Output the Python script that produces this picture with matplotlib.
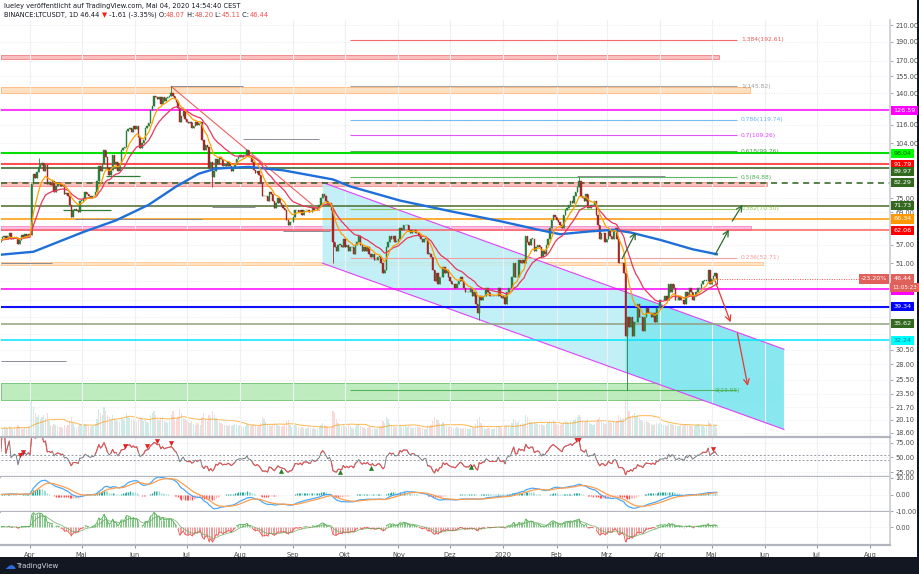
import numpy as np
import pandas as pd
import matplotlib
matplotlib.use("Agg")
import matplotlib.pyplot as plt
import matplotlib.dates as mdates
from matplotlib.patches import Rectangle, Polygon
from matplotlib.transforms import blended_transform_factory as blend
from matplotlib.ticker import FixedLocator, NullLocator

# ---------------- data (daily LTCUSDT) ----------------
first_open = 58.0
c_2019_03 = [58.5, 59.5, 60.0, 59.0, 59.8, 61.0, 58.9, 59.3, 59.6, 59.4, 57.2, 58.5, 60.4, 59.6, 60.7, 60.1, 60.8]
c_2019_04 = [60.3, 81.6, 86.8, 84.8, 87.6, 90.3, 91.6, 92.3, 88.4, 91.2, 81.5, 82.4, 81.2, 83.0, 78.0, 80.5, 82.0, 81.7, 80.5, 81.0,
             77.0, 77.6, 76.0, 72.0, 67.0, 70.0, 70.2, 69.8, 69.0, 74.0]
c_2019_05 = [74, 75, 78, 77, 76, 75, 76, 76, 78, 83, 91, 88, 92, 100, 96, 90, 86, 89, 97, 92, 93, 88, 92, 100, 101, 102, 112, 113,
             114, 111, 115]
c_2019_06 = [113, 115, 108, 101, 104, 106, 114, 115, 117, 127, 130, 138, 137, 135, 137, 131, 137, 134, 136, 137, 138, 140, 138, 135,
             133, 128, 118, 122, 126, 120]
c_2019_07 = [118, 117, 118, 114, 115, 118, 116, 117, 118, 106, 100, 103, 102, 90, 93, 85, 88, 95, 92, 96, 95, 91, 92, 91, 93, 91, 88,
             90, 92, 95, 96]
c_2019_08 = [97, 96, 97, 97, 100, 96, 96, 93, 89, 87, 88, 86, 82, 76, 76, 76, 74, 78, 77, 74, 71, 73, 75, 73, 72, 71, 70, 66, 64, 65, 65]
c_2019_09 = [67, 70, 70, 69, 70, 68, 70, 70, 70, 69, 69, 71, 70, 70, 71, 72, 75, 77, 76, 74, 72, 73, 70, 58, 56, 55, 57, 57, 56, 59]
c_2019_10 = [56, 57, 55, 56, 56, 54, 57, 58, 60, 57, 55, 56, 55, 56, 54, 53, 54, 52, 52, 53, 53, 51, 48, 49, 56, 58, 60, 59, 60, 58, 58]
c_2019_11 = [59, 63, 62, 64, 64, 64, 62, 61, 62, 62, 61, 61, 60, 59, 58, 59, 59, 54, 54, 53, 49, 46, 48, 45, 47, 47, 50, 48, 49, 47]
c_2019_12 = [46, 45, 45, 44, 45, 46, 47, 46, 44, 43, 43, 43, 44, 42, 43, 40, 38, 42, 41, 42, 42, 44, 43, 42, 42, 42, 42, 42, 44, 42, 41.5]
c_2020_01 = [42, 40, 43, 44, 44, 47, 51, 47, 47, 52, 51, 52, 51, 60, 58, 57, 59, 59, 55, 56, 57, 56, 53, 55, 54, 57, 59, 63, 66, 68, 67]
c_2020_02 = [66, 65, 64, 63, 68, 70, 71, 72, 74, 73, 76, 78, 80, 83, 76, 75, 74, 77, 71, 71, 72, 72, 74, 68, 64, 59, 61, 61, 58]
c_2020_03 = [59, 62, 60, 59, 62, 63, 59, 51, 51, 51, 48, 33, 37, 35, 37, 33, 36, 36, 40, 37, 37, 34, 37, 39, 38, 38, 37, 38, 36, 39, 39]
c_2020_04 = [41, 41, 41, 42, 41, 45, 43, 45, 44, 41, 41, 42, 41, 41, 40, 43, 42, 44, 43, 41, 42, 43, 44, 44, 45, 46, 46, 46, 49, 45]
c_2020_05 = [46.5, 47.2, 48.07, 46.44]

wick_dates = ['2019-04-06', '2019-06-22', '2019-07-16', '2019-09-24', '2019-12-18', '2020-02-14', '2020-03-13', '2020-05-04']
wick_highs = [95.5, 146.0, np.nan, np.nan, np.nan, 85.0, np.nan, 48.20]
wick_lows = [np.nan, np.nan, 80.0, 51.0, 36.5, np.nan, 23.95, 45.11]

v_2019_03 = [9, 8, 10, 9, 8, 11, 9, 8, 10, 9, 12, 10, 9, 8, 10, 9, 11]
v_2019_04 = [12, 38, 30, 24, 20, 22, 18, 20, 22, 19, 24, 16, 12, 11, 13, 12, 11, 10, 10, 9, 12, 10, 12, 16, 20, 14, 10, 9, 11, 13]
v_2019_05 = [12, 11, 13, 12, 11, 10, 11, 12, 13, 18, 28, 24, 22, 30, 26, 22, 20, 18, 22, 19, 17, 16, 15, 20, 18, 17, 24, 20, 19, 17, 18]
v_2019_06 = [16, 15, 17, 20, 18, 16, 17, 15, 14, 22, 24, 26, 22, 18, 17, 19, 20, 16, 15, 14, 16, 22, 26, 20, 18, 20, 28, 24, 19, 18]
v_2019_07 = [17, 15, 14, 16, 13, 12, 14, 13, 12, 20, 24, 18, 16, 22, 20, 26, 22, 19, 16, 15, 14, 13, 12, 12, 11, 12, 11, 12, 13, 12, 11]
v_2019_08 = [12, 11, 10, 11, 13, 12, 11, 12, 13, 12, 10, 11, 14, 20, 18, 15, 13, 12, 11, 12, 14, 13, 12, 11, 10, 11, 12, 16, 17, 12, 10]
v_2019_09 = [10, 12, 11, 10, 9, 10, 9, 8, 9, 10, 9, 8, 9, 8, 9, 10, 12, 14, 12, 11, 10, 9, 10, 26, 24, 18, 14, 12, 11, 12]
v_2019_10 = [11, 10, 12, 11, 9, 8, 10, 12, 13, 11, 10, 9, 8, 9, 10, 9, 8, 9, 8, 9, 10, 11, 16, 14, 20, 18, 14, 12, 11, 10, 10]
v_2019_11 = [11, 12, 10, 11, 12, 10, 11, 10, 9, 9, 10, 11, 10, 9, 9, 8, 8, 12, 11, 12, 16, 20, 18, 17, 14, 13, 15, 12, 11, 10]
v_2019_12 = [11, 10, 9, 9, 10, 9, 9, 8, 9, 9, 8, 8, 9, 10, 9, 13, 18, 20, 14, 11, 9, 8, 9, 9, 8, 8, 9, 10, 11, 10, 9]
v_2020_01 = [10, 11, 12, 11, 10, 14, 18, 16, 14, 16, 13, 14, 13, 22, 20, 16, 15, 14, 15, 14, 13, 12, 13, 12, 11, 13, 14, 16, 15, 17, 14]
v_2020_02 = [13, 12, 12, 13, 15, 16, 15, 14, 16, 15, 17, 18, 20, 22, 20, 16, 15, 16, 18, 14, 13, 12, 13, 15, 18, 20, 16, 14, 13]
v_2020_03 = [14, 16, 15, 14, 15, 14, 16, 22, 20, 18, 19, 40, 48, 26, 20, 22, 24, 20, 22, 19, 17, 16, 15, 16, 15, 14, 13, 12, 13, 14, 13]
v_2020_04 = [14, 13, 12, 12, 11, 14, 13, 13, 12, 12, 11, 11, 12, 11, 12, 13, 12, 12, 11, 11, 11, 12, 13, 12, 11, 11, 10, 11, 16, 14]
v_2020_05 = [12, 11, 12, 9]

ema200_dates = ['2019-03-14', '2019-04-03', '2019-05-02', '2019-05-21', '2019-06-09', '2019-06-25', '2019-07-08', '2019-07-18',
                '2019-08-06', '2019-08-26', '2019-09-24', '2019-10-04', '2019-11-02', '2019-12-01', '2019-12-30', '2020-01-23',
                '2020-02-03', '2020-02-20', '2020-03-05', '2020-03-15', '2020-04-01', '2020-04-20', '2020-05-04']
ema200_vals = [53.6, 54.6, 61.4, 65.8, 72.2, 80.5, 86.8, 89.5, 90.4, 88.6, 83.9, 80.5, 74.0, 69.5, 65.5, 62.0, 60.6, 61.6, 62.2,
               61.2, 58.6, 55.4, 53.8]

# horizontal levels (full width) with right-axis labels
hl_prices = [126.59, 98.04, 91.79, 89.97, 82.29, 71.73, 66.34, 62.06, 43.66, 39.34, 35.62, 32.24]
hl_colors = ['#ff00ff', '#00e000', '#ff1a1a', '#2e5e1e', '#2e5e1e', '#4a6b2a', '#ff9800', '#ff6060', '#ff00ff', '#1010ff',
             '#8fa07d', '#00e5ff']
hl_label_bg = ['#ff00ff', '#00ff00', '#ff0000', '#33691e', '#33691e', '#33691e', '#ff9800', '#ff0000', '#ff00ff', '#0000ff',
               '#33691e', '#00ffff']
hl_label_fg = ['white', '#1b5e20', 'white', 'white', 'white', 'white', 'white', 'white', 'white', 'white', 'white', '#00838f']

# fibonacci retracement
fib_ratios = ['1.384', '1', '0.786', '0.7', '0.618', '0.5', '0.382', '0.236', '0']
fib_prices = [192.61, 145.82, 119.74, 109.26, 99.26, 84.88, 70.50, 52.71, 23.95]
fib_colors = ['#f05a5a', '#9e9e9e', '#64b5f6', '#e040fb', '#43a047', '#4caf50', '#8bc34a', '#ef9a9a', '#4caf50']
fib_start, fib_end = '2019-10-04', '2020-05-16'

# price zones
band_lo = [171.5, 140.4, 80.6, 62.3, 50.4, 22.6]
band_hi = [175.7, 145.4, 82.7, 63.6, 51.5, 25.0]
band_end = ['2020-05-05', '2020-05-23', '2020-06-02', '2020-05-24', '2020-05-31', '2020-06-10']
band_face = ['#f7a8a8', '#ffd6ad', '#f7adad', '#f9a8d8', '#ffdcb3', '#a8e6a8']
band_edge = ['#f06f6f', '#ffab66', '#f27b7b', '#f57ac0', '#ffbe80', '#5cb85c']

# descending channel
channel_dates = ['2019-09-18', '2020-06-12']
channel_top = [82.4, 30.6]
channel_bot = [51.0, 19.0]
bright_start = '2020-03-12'

trend_dates = ['2019-06-22', '2019-09-16']
trend_prices = [145.8, 69.8]

gray_start = ['2019-06-22', '2019-08-03', '2019-07-16', '2019-04-27', '2019-03-15', '2020-02-13', '2019-03-15', '2019-08-26']
gray_end = ['2019-08-03', '2019-09-16', '2019-08-10', '2019-07-10', '2019-04-14', '2020-04-04', '2019-04-22', '2019-09-22']
gray_price = [145.8, 107.0, 71.3, 66.4, 51.2, 85.6, 28.6, 61.8]

green_start = ['2019-05-15', '2019-04-20']
green_end = ['2019-06-04', '2019-05-18']
green_price = [85.6, 70.0]

arrow_g_from = [('2020-03-10', 52.4), ('2020-05-03', 53.6), ('2020-05-13', 65.5)]
arrow_g_to = [('2020-03-18', 61.3), ('2020-05-11', 62.3), ('2020-05-19', 72.2)]
arrow_r_from = [('2020-05-03', 45.9), ('2020-05-16', 33.6)]
arrow_r_to = [('2020-05-12', 35.9), ('2020-05-22', 24.6)]

rsi_sell_dates = ['2019-03-26', '2019-03-28', '2019-05-26', '2019-06-08', '2019-06-14', '2019-06-22', '2020-02-12', '2020-02-14',
                  '2020-05-02']
rsi_buy_dates = ['2019-08-25', '2019-09-28', '2019-10-16', '2019-12-13']

price_ticks = [210, 190, 170, 155, 140, 116, 104, 75, 69, 57, 51, 30.5, 28, 25.5, 23.5, 21.7, 20.1, 18.6]
grid_only = [128, 93, 84, 63, 46, 41, 37, 33.5]
month_labels = ['Apr', 'Mai', 'Jun', 'Jul', 'Aug', 'Sep', 'Okt', 'Nov', 'Dez', '2020', 'Feb', 'Mrz', 'Apr', 'Mai', 'Jun', 'Jul', 'Aug']

# ---------------- derived series ----------------
closes = np.array(c_2019_03 + c_2019_04 + c_2019_05 + c_2019_06 + c_2019_07 + c_2019_08 + c_2019_09 + c_2019_10 +
                  c_2019_11 + c_2019_12 + c_2020_01 + c_2020_02 + c_2020_03 + c_2020_04 + c_2020_05, float)
vols = np.array(v_2019_03 + v_2019_04 + v_2019_05 + v_2019_06 + v_2019_07 + v_2019_08 + v_2019_09 + v_2019_10 +
                v_2019_11 + v_2019_12 + v_2020_01 + v_2020_02 + v_2020_03 + v_2020_04 + v_2020_05, float)
n = len(closes)
vols = vols[:n]
dates = pd.date_range('2019-03-15', periods=n, freq='D')
xd = mdates.date2num(dates)
opens = np.concatenate([[first_open], closes[:-1]])
highs = np.maximum(opens, closes)
lows = np.minimum(opens, closes)
for d, h, l in zip(wick_dates, wick_highs, wick_lows):
    i = dates.get_loc(pd.Timestamp(d))
    if not np.isnan(h):
        highs[i] = max(highs[i], h)
    if not np.isnan(l):
        lows[i] = min(lows[i], l)

cs = pd.Series(closes)
ema_fast = cs.ewm(span=9, adjust=False).mean().values
ema_slow = cs.ewm(span=21, adjust=False).mean().values
diff = cs.diff().fillna(0)
gain = diff.clip(lower=0).ewm(alpha=1 / 14, adjust=True).mean()
loss = (-diff.clip(upper=0)).ewm(alpha=1 / 14, adjust=True).mean()
rsi = (100 * gain / (gain + loss)).fillna(50).values
rsi[0] = 60
macd = (cs.ewm(span=12, adjust=False).mean() - cs.ewm(span=26, adjust=False).mean()).values
signal = pd.Series(macd).ewm(span=9, adjust=False).mean().values
hist = macd - signal
mom = (cs - cs.rolling(20, min_periods=1).mean()).values
vol_ma = pd.Series(vols).rolling(20, min_periods=1).mean().values


def psar(high, low, af0=0.02, afmax=0.2):
    m = len(high)
    sar = np.zeros(m)
    upt = np.zeros(m, bool)
    trend = True
    af = af0
    ep = high[0]
    sar[0] = low[0]
    upt[0] = True
    for i in range(1, m):
        s = sar[i - 1] + af * (ep - sar[i - 1])
        if trend:
            s = min(s, low[i - 1], low[max(i - 2, 0)])
            if low[i] < s:
                trend = False
                s = ep
                ep = low[i]
                af = af0
            elif high[i] > ep:
                ep = high[i]
                af = min(af + af0, afmax)
        else:
            s = max(s, high[i - 1], high[max(i - 2, 0)])
            if high[i] > s:
                trend = True
                s = ep
                ep = high[i]
                af = af0
            elif low[i] < ep:
                ep = low[i]
                af = min(af + af0, afmax)
        sar[i] = s
        upt[i] = trend
    return sar, upt


sar, sar_up = psar(highs, lows)

# ---------------- figure ----------------
W, H = 920, 574
fig = plt.figure(figsize=(9.2, 5.74), dpi=100)
fig.patch.set_facecolor('white')


def rect(l, t, r, b):
    return [l / W, 1 - b / H, (r - l) / W, (b - t) / H]


PXD = 1.7213
apr1 = mdates.date2num(pd.Timestamp('2019-04-01'))
xleft = apr1 - 29 / PXD
xright = xleft + 889 / PXD
D = lambda s: mdates.date2num(pd.Timestamp(s))
month_ticks = [mdates.date2num(t) for t in pd.date_range('2019-04-01', '2020-08-01', freq='MS')]

axv = fig.add_axes(rect(1, 20, 890, 437), zorder=0)
ax = fig.add_axes(rect(1, 20, 890, 437), zorder=1)
ax.patch.set_visible(False)
axr = fig.add_axes(rect(1, 437, 890, 477))
axm = fig.add_axes(rect(1, 477, 890, 512))
axo = fig.add_axes(rect(1, 512, 890, 545))

for a in (ax, axr, axm, axo):
    a.set_xlim(xleft, xright)
    a.set_xticks(month_ticks)
    a.grid(axis='x', color='#eef0f5', lw=0.8)
    for s in ('left', 'top'):
        a.spines[s].set_visible(False)
    a.spines['right'].set_color('#c9ccd4')
    a.spines['right'].set_linewidth(1.2)
    a.spines['bottom'].set_color('#b2b5be')
    a.spines['bottom'].set_linewidth(1.6)
    a.yaxis.tick_right()
    a.tick_params(axis='y', labelsize=4.8, labelcolor='#4a4a4a', length=2, color='#9598a1', pad=2, width=0.6)
    a.tick_params(axis='x', length=0, labelbottom=False)
axo.tick_params(axis='x', length=2, color='#9598a1', labelbottom=True, labelsize=4.8, labelcolor='#4a4a4a', pad=3)
axo.set_xticklabels(month_labels)

# volume pane (behind the price pane)
axv.set_xlim(xleft, xright)
axv.set_ylim(0, 417)
axv.axis('off')
upmask = closes >= opens
axv.bar(xd, vols, width=0.75, color=np.where(upmask, '#26a69a', '#ef5350'), alpha=0.22, lw=0)
axv.plot(xd, vol_ma, color='#ff9800', lw=0.7, alpha=0.7)

# main price pane
ax.set_yscale('log')
ax.set_ylim(18.16, 216.4)
ax.yaxis.set_major_locator(FixedLocator(price_ticks))
ax.yaxis.set_minor_locator(NullLocator())
ax.set_yticklabels(['%.2f' % t for t in price_ticks])
for p in price_ticks + grid_only:
    ax.axhline(p, color='#e3e5ea', lw=0.6, ls=(0, (1, 2)), zorder=0)

# bands
for lo, hi, e, fc, ec in zip(band_lo, band_hi, band_end, band_face, band_edge):
    ax.add_patch(Rectangle((xleft, lo), D(e) - xleft, hi - lo, facecolor=fc, edgecolor=ec, lw=0.7, alpha=0.75, zorder=1))

# channel
c0, c1 = D(channel_dates[0]), D(channel_dates[1])
ax.add_patch(Polygon([(c0, channel_top[0]), (c1, channel_top[1]), (c1, channel_bot[1]), (c0, channel_bot[0])],
                     closed=True, facecolor='#b9eef5', edgecolor='none', alpha=0.85, zorder=1))
frac = (D(bright_start) - c0) / (c1 - c0)
bt = np.exp(np.log(channel_top[0]) + frac * (np.log(channel_top[1]) - np.log(channel_top[0])))
bb = np.exp(np.log(channel_bot[0]) + frac * (np.log(channel_bot[1]) - np.log(channel_bot[0])))
ax.add_patch(Polygon([(D(bright_start), bt), (c1, channel_top[1]), (c1, channel_bot[1]), (D(bright_start), bb)],
                     closed=True, facecolor='#7fe6f0', edgecolor='none', alpha=0.85, zorder=1))
ax.plot([c0, c1], channel_top, color='#e040fb', lw=0.8, zorder=2)
ax.plot([c0, c1], channel_bot, color='#e040fb', lw=0.8, zorder=2)

# horizontal levels
for p, c in zip(hl_prices, hl_colors):
    ls = (0, (4, 3)) if p == 82.29 else '-'
    lw = 1.5 if p in (98.04, 39.34) else 1.1
    ax.axhline(p, color=c, lw=lw, ls=ls, zorder=2)

# fib lines
for r, p, c in zip(fib_ratios, fib_prices, fib_colors):
    ax.hlines(p, D(fib_start), D(fib_end), color=c, lw=0.8, zorder=2, alpha=0.9)
    lx = D('2020-05-03') if r == '0' else D('2020-05-18')
    ax.text(lx, p, '%s(%.2f)' % (r, p), fontsize=4.3, color=c, va='center', ha='left', zorder=6)

# gray / green segments
for s, e, p in zip(gray_start, gray_end, gray_price):
    ax.hlines(p, D(s), D(e), color='#8a8d96', lw=0.7, zorder=3)
for s, e, p in zip(green_start, green_end, green_price):
    ax.hlines(p, D(s), D(e), color='#2e7d32', lw=0.9, zorder=3)
ax.plot([D(trend_dates[0]), D(trend_dates[1])], trend_prices, color='#f06060', lw=0.8, zorder=3)

# candles
col = np.where(upmask, '#2a7d3a', '#a02828')
ax.vlines(xd, lows, highs, colors=col, lw=0.6, zorder=4)
ax.bar(xd, np.maximum(np.abs(closes - opens), 0.002 * closes), bottom=np.minimum(opens, closes), width=0.8,
       color=col, edgecolor=col, lw=0.3, zorder=4)

# moving averages
ax.plot([D(d) for d in ema200_dates], ema200_vals, color='#1e6fd9', lw=1.7, zorder=5)
ax.plot(xd, ema_slow, color='#e8375f', lw=0.9, zorder=5)
ax.plot(xd, ema_fast, color='#ffa000', lw=0.9, zorder=5)

# parabolic SAR
ax.scatter(xd[sar_up], sar[sar_up], s=0.45, marker='s', color='#4caf50', zorder=5, lw=0)
ax.scatter(xd[~sar_up], sar[~sar_up], s=0.45, marker='s', color='#ff4d4d', zorder=5, lw=0)

# arrows
for (d0, p0), (d1, p1) in zip(arrow_g_from, arrow_g_to):
    ax.annotate('', xy=(D(d1), p1), xytext=(D(d0), p0),
                arrowprops=dict(arrowstyle='->', color='#2e6b2e', lw=0.9, shrinkA=0, shrinkB=0), zorder=6)
for (d0, p0), (d1, p1) in zip(arrow_r_from, arrow_r_to):
    ax.annotate('', xy=(D(d1), p1), xytext=(D(d0), p0),
                arrowprops=dict(arrowstyle='->', color='#e53935', lw=0.9, shrinkA=0, shrinkB=0), zorder=6)

# current price line
last = closes[-1]
ax.hlines(last, xd[-1], xright, color='#ef5350', lw=0.7, ls=(0, (1, 1.5)), zorder=3)

# right-axis labels
tr = blend(ax.transAxes, ax.transData)


def plabel(price, txt, bg, fg, dy=0.0, dx=2.5, ha='left', fs=4.6):
    ax.annotate(txt, xy=(1, price), xycoords=tr, xytext=(dx, dy), textcoords='offset points', fontsize=fs,
                color=fg, ha=ha, va='center', annotation_clip=False, zorder=10,
                bbox=dict(boxstyle='square,pad=0.32', fc=bg, ec='none'))


label_dy = {89.97: -3.0, 43.66: -1.0}
for p, bg, fg in zip(hl_prices, hl_label_bg, hl_label_fg):
    plabel(p, '%.2f' % p, bg, fg, dy=label_dy.get(p, 0.0))
plabel(last, '%.2f' % last, '#e0605a', 'white')
plabel(last, '11:05:23', '#e0605a', 'white', dy=-6.0, dx=1.5, fs=4.0)
plabel(last, '-23.20%', '#e0605a', 'white', dx=-2.0, ha='right')

# RSI pane
axr.set_ylim(16.4, 85.3)
axr.set_yticks([25, 50, 75])
axr.set_yticklabels(['25.00', '50.00', '75.00'])
for v in (25, 50, 75):
    axr.axhline(v, color='#e3e5ea', lw=0.6, ls=(0, (1, 2)))
axr.axhline(55, color='#9598a1', lw=0.7, ls=(0, (2, 2)))
axr.axhline(45, color='#9598a1', lw=0.7, ls=(0, (2, 2)))
axr.plot(xd, rsi, color='#777a82', lw=0.7)
axr.plot(xd, np.where((rsi > 45) & (rsi < 55), np.nan, rsi), color='#f05050', lw=0.7)
for d in rsi_sell_dates:
    i = dates.get_loc(pd.Timestamp(d))
    axr.plot(xd[i], min(rsi[i] + 6, 82), marker='v', color='#ff1a1a', ms=3, mec='#b00000', mew=0.3)
for d in rsi_buy_dates:
    i = dates.get_loc(pd.Timestamp(d))
    axr.plot(xd[i], max(rsi[i] - 5, 19), marker='^', color='#1b8a1b', ms=3, mec='#0b5b0b', mew=0.3)

# MACD pane
axm.set_ylim(-10.6, 10.6)
axm.set_yticks([-10, 0, 10])
axm.set_yticklabels(['-10.00', '0.00', '10.00'])
for v in (-10, 0, 10):
    axm.axhline(v, color='#e3e5ea', lw=0.6, ls=(0, (1, 2)))
dh = np.diff(hist, prepend=hist[0])
hcol = np.where(hist >= 0, np.where(dh >= 0, '#26a69a', '#9fd9d3'), np.where(dh <= 0, '#ff5252', '#ffb3b3'))
axm.vlines(xd, 0, hist, colors=hcol, lw=0.9)
axm.plot(xd, macd, color='#4fa8f5', lw=0.9)
axm.plot(xd, signal, color='#ff9e4f', lw=0.9)

# momentum pane
mm = np.max(np.abs(mom))
axo.set_ylim(-1.2 * mm, 1.0 * mm)
axo.set_yticks([0])
axo.set_yticklabels(['0.00'])
axo.axhline(0, color='#e3e5ea', lw=0.6, ls=(0, (1, 2)))
axo.vlines(xd, 0, mom, colors=np.where(mom >= 0, '#81c784', '#ef9a9a'), lw=0.7)
axo.plot(xd, np.where(mom >= 0, mom, np.nan), color='#4caf50', lw=0.6)
axo.plot(xd, np.where(mom < 0, mom, np.nan), color='#ef5350', lw=0.6)
axo.plot(xd, pd.Series(mom).ewm(span=8, adjust=False).mean().values, color='#66a85a', lw=0.6, alpha=0.8)

# header
fig.text(4 / W, 1 - 6 / H, 'lueley veröffentlicht auf TradingView.com, Mai 04, 2020 14:54:40 CEST', fontsize=4.8,
         color='#131722', va='center', ha='left')
parts = [('BINANCE:LTCUSDT, 1D 46.44 ', '#131722'), ('\u25bc', '#ff1a1a'), (' -1.61 (-3.35%) O:', '#131722'),
         ('48.07', '#ef5350'), (' H:', '#131722'), ('48.20', '#ef5350'), (' L:', '#131722'), ('45.11', '#ef5350'),
         (' C:', '#131722'), ('46.44', '#ef5350')]
prev = fig.text(4 / W, 1 - 15 / H, parts[0][0], fontsize=4.8, color=parts[0][1], va='center', ha='left')
for txt, c in parts[1:]:
    prev = fig.text(0, 0, txt, fontsize=4.8, color=c, va='center', ha='left',
                    transform=matplotlib.transforms.offset_copy(fig.transFigure, fig=fig)) if False else \
        ax.annotate(txt, xy=(1, 0.5), xycoords=prev, va='center', ha='left', fontsize=4.8, color=c,
                    annotation_clip=False)

# footer
fig.patches.append(Rectangle((0, 0), 1, 17 / H, transform=fig.transFigure, facecolor='#131722', edgecolor='none',
                             zorder=0))
fig.patches.append(Rectangle((917 / W, 0), 3 / W, 1, transform=fig.transFigure, facecolor='#131722', edgecolor='none',
                             zorder=0))
fig.text(4 / W, 8 / H, '\u2601', fontsize=8, color='#2d6cdf', va='center', ha='left')
fig.text(16 / W, 8 / H, 'TradingView', fontsize=5, color='#d1d4dc', va='center', ha='left')

fig.savefig('out.png', dpi=100, facecolor='white')
